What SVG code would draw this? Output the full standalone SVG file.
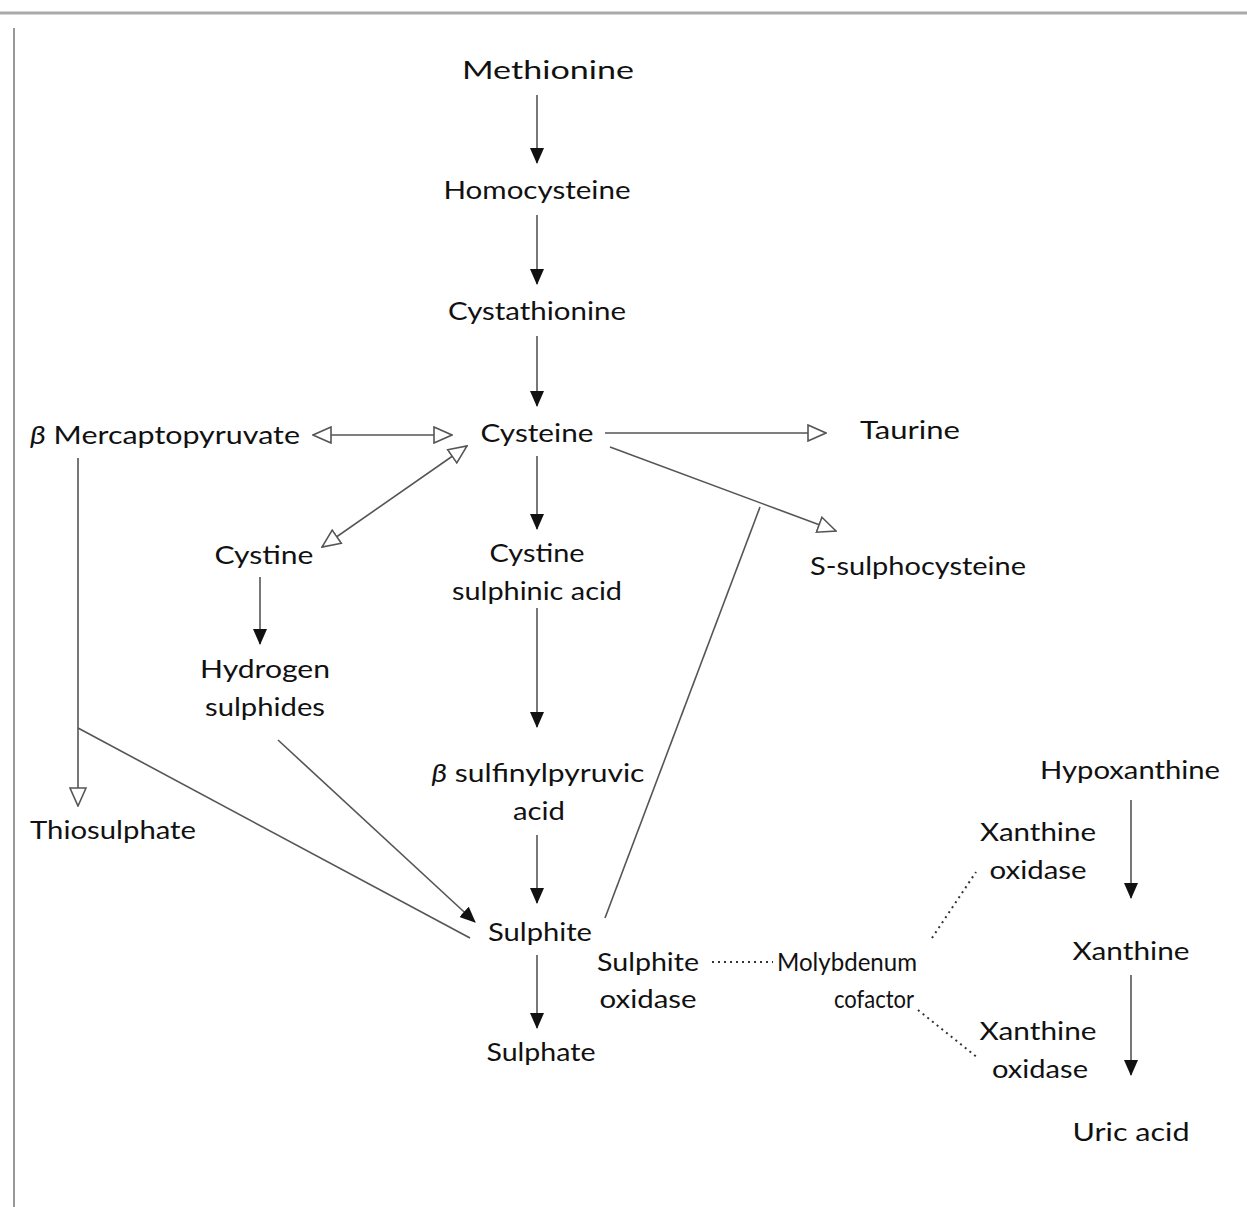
<svg xmlns="http://www.w3.org/2000/svg" width="1247" height="1207" viewBox="0 0 1247 1207">
<defs>
<style>
text{font-family:Lato,"Open Sans","DejaVu Sans",sans-serif;font-size:25px;fill:#111;text-anchor:middle}
.ln{stroke:#555;stroke-width:1.6;fill:none}
.dot{stroke:#333;stroke-width:2;fill:none;stroke-dasharray:2 4}
.fs{marker-end:url(#tri)}
.fo{marker-end:url(#otri)}
.fo2{marker-end:url(#otri);marker-start:url(#otri)}
</style>
<marker id="tri" viewBox="0 0 16 14" refX="15" refY="7" markerWidth="16" markerHeight="14" markerUnits="userSpaceOnUse" orient="auto-start-reverse">
<path d="M0,0 L16,7 L0,14 Z" fill="#111"/>
</marker>
<marker id="otri" viewBox="0 0 20 18" refX="19" refY="9" markerWidth="20" markerHeight="18" markerUnits="userSpaceOnUse" orient="auto-start-reverse">
<path d="M1,1 L19,9 L1,17 Z" fill="#fff" stroke="#555" stroke-width="1.6"/>
</marker>
</defs>
<rect width="1247" height="1207" fill="#fff"/>
<g id="frame">
<line x1="0" y1="13" x2="1247" y2="13" stroke="#aaa" stroke-width="3"/>
<line x1="14" y1="28" x2="14" y2="1207" stroke="#999" stroke-width="2"/>
</g>
<g id="connectors">
<line class="ln fs" x1="537" y1="95" x2="537" y2="163"/>
<line class="ln fs" x1="537" y1="215" x2="537" y2="284"/>
<line class="ln fs" x1="537" y1="336" x2="537" y2="406"/>
<line class="ln fs" x1="537" y1="456" x2="537" y2="529"/>
<line class="ln fs" x1="537" y1="608" x2="537" y2="727"/>
<line class="ln fs" x1="537" y1="835" x2="537" y2="903"/>
<line class="ln fs" x1="537" y1="955" x2="537" y2="1028"/>
<line class="ln fs" x1="1131" y1="800" x2="1131" y2="898"/>
<line class="ln fs" x1="1131" y1="975" x2="1131" y2="1075"/>
<line class="ln fs" x1="260" y1="577" x2="260" y2="644"/>
<line class="ln fo" x1="605" y1="433" x2="826" y2="433"/>
<line class="ln fo" x1="610" y1="447" x2="836" y2="531"/>
<line class="ln fo2" x1="313" y1="435" x2="452" y2="435"/>
<line class="ln fo2" x1="322" y1="547" x2="467" y2="446"/>
<line class="ln fo" x1="78" y1="458" x2="78" y2="806"/>
<line class="ln" x1="78" y1="728" x2="470" y2="938"/>
<line class="ln fs" x1="278" y1="740" x2="475" y2="922"/>
<line class="ln" x1="605" y1="918" x2="760" y2="507"/>
<line class="dot" x1="712" y1="962" x2="773" y2="962"/>
<line class="dot" x1="932" y1="938" x2="976" y2="872"/>
<line class="dot" x1="918" y1="1010" x2="978" y2="1058"/>
</g>
<g id="methionine"><text x="548" y="79" textLength="172" lengthAdjust="spacingAndGlyphs">Methionine</text></g>
<g id="homocysteine"><text x="537" y="199" textLength="187" lengthAdjust="spacingAndGlyphs">Homocysteine</text></g>
<g id="cystathionine"><text x="537" y="320" textLength="178" lengthAdjust="spacingAndGlyphs">Cystathionine</text></g>
<g id="cysteine"><text x="537" y="442" textLength="113" lengthAdjust="spacingAndGlyphs">Cysteine</text></g>
<g id="cystine-sulphinic-acid"><text x="537" y="562" textLength="95" lengthAdjust="spacingAndGlyphs">Cystine</text><text x="537" y="600" textLength="170" lengthAdjust="spacingAndGlyphs">sulphinic acid</text></g>
<g id="b-sulfinylpyruvic-acid"><text x="538" y="782" textLength="213" lengthAdjust="spacingAndGlyphs"><tspan font-style="italic">β</tspan> sulfinylpyruvic</text><text x="539" y="820" textLength="52" lengthAdjust="spacingAndGlyphs">acid</text></g>
<g id="sulphite"><text x="540" y="941" textLength="104" lengthAdjust="spacingAndGlyphs">Sulphite</text></g>
<g id="sulphate"><text x="541" y="1061" textLength="109" lengthAdjust="spacingAndGlyphs">Sulphate</text></g>
<g id="taurine"><text x="910" y="439" textLength="100" lengthAdjust="spacingAndGlyphs">Taurine</text></g>
<g id="s-sulphocysteine"><text x="918" y="575" textLength="216" lengthAdjust="spacingAndGlyphs">S-sulphocysteine</text></g>
<g id="b-mercaptopyruvate"><text x="165" y="444" textLength="270" lengthAdjust="spacingAndGlyphs"><tspan font-style="italic">β</tspan> Mercaptopyruvate</text></g>
<g id="cystine"><text x="264" y="564" textLength="99" lengthAdjust="spacingAndGlyphs">Cystine</text></g>
<g id="hydrogen-sulphides"><text x="265" y="678" textLength="130" lengthAdjust="spacingAndGlyphs">Hydrogen</text><text x="265" y="716" textLength="120" lengthAdjust="spacingAndGlyphs">sulphides</text></g>
<g id="thiosulphate"><text x="113" y="839" textLength="166" lengthAdjust="spacingAndGlyphs">Thiosulphate</text></g>
<g id="sulphite-oxidase"><text x="648" y="971" textLength="102" lengthAdjust="spacingAndGlyphs">Sulphite</text><text x="648" y="1008" textLength="97" lengthAdjust="spacingAndGlyphs">oxidase</text></g>
<g id="molybdenum-cofactor"><text x="847" y="971" textLength="140" lengthAdjust="spacingAndGlyphs">Molybdenum</text><text x="874" y="1008" textLength="80" lengthAdjust="spacingAndGlyphs">cofactor</text></g>
<g id="hypoxanthine"><text x="1130" y="779" textLength="180" lengthAdjust="spacingAndGlyphs">Hypoxanthine</text></g>
<g id="xanthine-oxidase-1"><text x="1038" y="841" textLength="116" lengthAdjust="spacingAndGlyphs">Xanthine</text><text x="1038" y="879" textLength="97" lengthAdjust="spacingAndGlyphs">oxidase</text></g>
<g id="xanthine"><text x="1131" y="960" textLength="117" lengthAdjust="spacingAndGlyphs">Xanthine</text></g>
<g id="xanthine-oxidase-2"><text x="1038" y="1040" textLength="117" lengthAdjust="spacingAndGlyphs">Xanthine</text><text x="1040" y="1078" textLength="96" lengthAdjust="spacingAndGlyphs">oxidase</text></g>
<g id="uric-acid"><text x="1131" y="1141" textLength="117" lengthAdjust="spacingAndGlyphs">Uric acid</text></g>
</svg>
